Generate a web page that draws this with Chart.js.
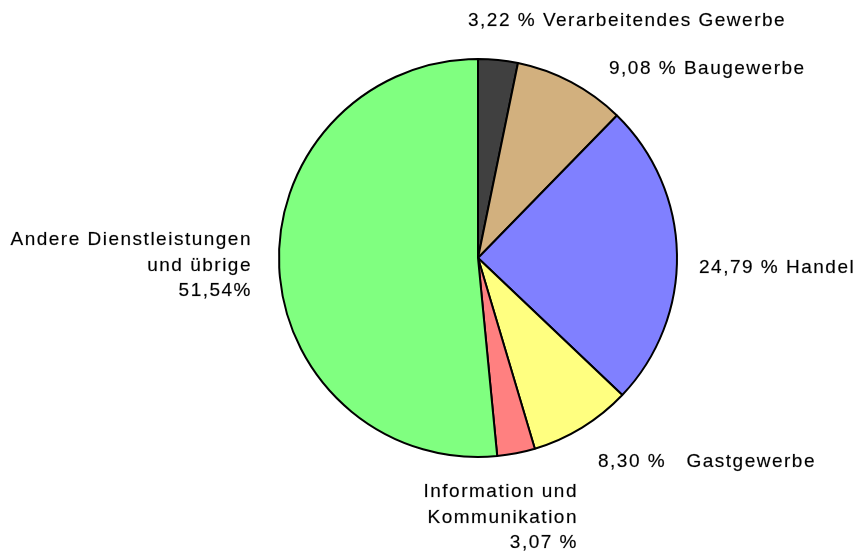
<!DOCTYPE html>
<html>
<head>
<meta charset="utf-8">
<script src="https://cdn.jsdelivr.net/npm/chart.js@4/dist/chart.umd.min.js"></script>
<style>
  html, body { margin: 0; padding: 0; background: #fff; }
  #wrap { width: 862px; height: 556px; position: relative; }
</style>
</head>
<body>
<div id="wrap"><canvas id="pie"></canvas></div>
<script>
// Anteile nach Wirtschaftszweig (Uhrzeigersinn ab 12 Uhr)
const SECTORS = ['Verarbeitendes Gewerbe', 'Baugewerbe', 'Handel', 'Gastgewerbe', 'Information und Kommunikation', 'Andere Dienstleistungen und übrige'];
const SHARES = [3.22, 9.08, 24.79, 8.30, 3.07, 51.54];
const COLORS = ['#404040', '#d2b07e', '#8080ff', '#ffff80', '#ff8080', '#80ff80'];

// Beschriftungen, wie im Original umbrochen
const LABEL_LINES = [
  ['3,22 % Verarbeitendes Gewerbe'],
  ['9,08 % Baugewerbe'],
  ['24,79 % Handel'],
  ['8,30 %   Gastgewerbe'],
  ['Information und', 'Kommunikation', '3,07 %'],
  ['Andere Dienstleistungen', 'und übrige', '51,54%']
];

// Position (x, y der ersten Zeile) und Ausrichtung je Beschriftung
const LABEL_POS = [
  { x: 468, y: 21, align: 'left' },
  { x: 609, y: 69, align: 'left' },
  { x: 699, y: 268, align: 'left' },
  { x: 598, y: 462, align: 'left' },
  { x: 578, y: 492, align: 'right' },
  { x: 252, y: 240, align: 'right' }
];

const labelPlugin = {
  id: 'outerLabels',
  afterDraw(chart) {
    const ctx = chart.ctx;
    ctx.save();
    ctx.font = '19px "Liberation Sans", Arial, sans-serif';
    ctx.fillStyle = '#000';
    ctx.strokeStyle = 'rgba(0,0,0,0.35)';
    ctx.lineWidth = 0.5;
    ctx.textBaseline = 'middle';
    if ('letterSpacing' in ctx) ctx.letterSpacing = '1.5px';
    LABEL_LINES.forEach((lines, i) => {
      const p = LABEL_POS[i];
      ctx.textAlign = p.align;
      lines.forEach((t, j) => {
        ctx.fillText(t, p.x, p.y + j * 25.5);
        ctx.strokeText(t, p.x, p.y + j * 25.5);
      });
    });
    ctx.restore();
  }
};

new Chart(document.getElementById('pie').getContext('2d'), {
  type: 'pie',
  data: {
    labels: SECTORS,
    datasets: [{
      data: SHARES,
      backgroundColor: COLORS,
      borderColor: '#000',
      borderWidth: 2
    }]
  },
  options: {
    responsive: true,
    maintainAspectRatio: false,
    animation: false,
    layout: { padding: { left: 278, right: 184, top: 58, bottom: 98 } },
    plugins: {
      legend: { display: false },
      tooltip: { enabled: false }
    }
  },
  plugins: [labelPlugin]
});
</script>
</body>
</html>
